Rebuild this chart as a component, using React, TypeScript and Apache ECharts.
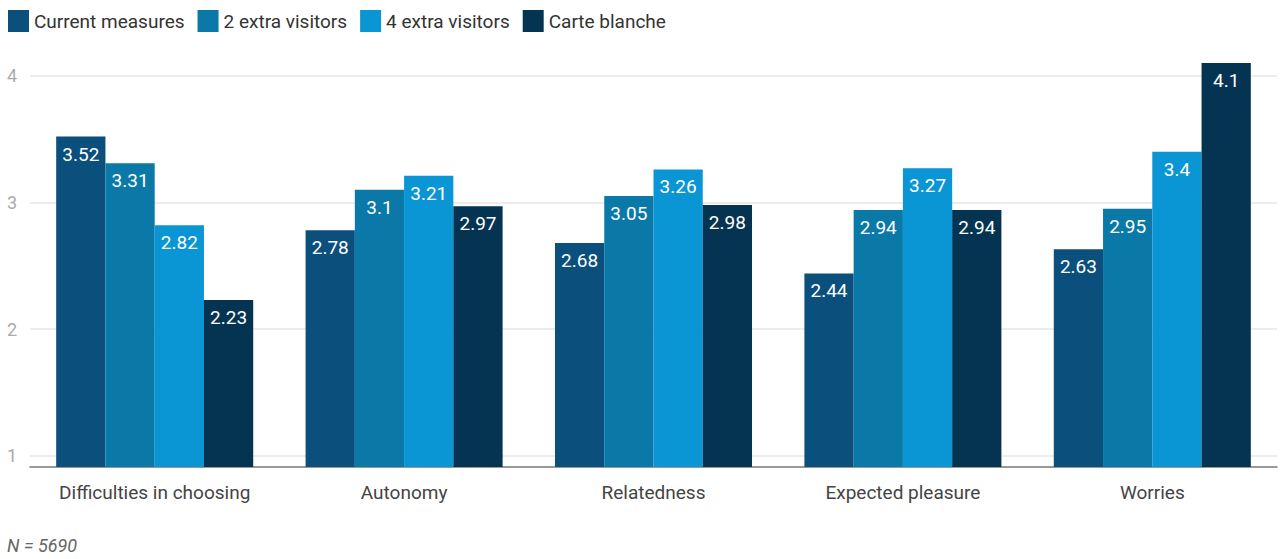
import React, { useEffect, useRef } from "react";
import * as echarts from "echarts";

const categories = ["Difficulties in choosing", "Autonomy", "Relatedness", "Expected pleasure", "Worries"];
const currentMeasures = [3.52, 2.78, 2.68, 2.44, 2.63];
const twoExtra = [3.31, 3.1, 3.05, 2.94, 2.95];
const fourExtra = [2.82, 3.21, 3.26, 3.27, 3.4];
const carteBlanche = [2.23, 2.97, 2.98, 2.94, 4.1];
const seriesNames = ["Current measures", "2 extra visitors", "4 extra visitors", "Carte blanche"];
const colors = ["#0b4f7c", "#0a79a7", "#0a95d4", "#053452"];
const yTicks = [1, 2, 3, 4];

export default function App() {
  const ref = useRef<HTMLDivElement>(null);
  useEffect(() => {
    const chart = echarts.init(ref.current!, null, { renderer: "svg" });
    const seriesData = [currentMeasures, twoExtra, fourExtra, carteBlanche];
    chart.setOption({
      animation: false,
      textStyle: { fontFamily: "Roboto" },
      legend: {
        top: 5,
        left: 3,
        itemWidth: 21,
        itemHeight: 22,
        itemGap: 13,
        icon: "rect",
        textStyle: { fontSize: 19, color: "#333", fontFamily: "Roboto" },
        data: seriesNames,
      },
      grid: { left: 30, right: 3, top: 63, bottom: 92, containLabel: false },
      xAxis: {
        type: "category",
        data: categories,
        axisLine: { show: true, lineStyle: { color: "#777", width: 1.5 } },
        axisTick: { show: false },
        axisLabel: { fontSize: 19, color: "#444", margin: 16, fontFamily: "Roboto" },
      },
      yAxis: {
        type: "value",
        min: 0.913,
        max: 4.1,
        axisLine: { show: false },
        axisTick: { show: false, customValues: yTicks },
        axisLabel: { customValues: yTicks, fontSize: 18, color: "#aaa", margin: 13, fontFamily: "Roboto" },
        splitLine: { show: true, lineStyle: { color: "#e6e6e6", width: 1.5 } },
      },
      series: seriesData.map((d, i) => ({
        type: "bar",
        name: seriesNames[i],
        data: d,
        barGap: "0%",
        barCategoryGap: "21%",
        itemStyle: { color: colors[i] },
        label: {
          show: true,
          position: "insideTop",
          distance: 8,
          color: "#fff",
          fontSize: 19,
          fontFamily: "Roboto",
        },
      })),
      graphic: [
        {
          type: "text",
          left: 7,
          top: 536,
          style: { text: "N = 5690", fontSize: 18, fontStyle: "italic", fill: "#666", fontFamily: "Roboto" },
        },
      ],
    });
    return () => chart.dispose();
  }, []);
  return <div ref={ref} style={{ position: "absolute", left: 0, top: 0, width: 1280, height: 559 }} />;
}
